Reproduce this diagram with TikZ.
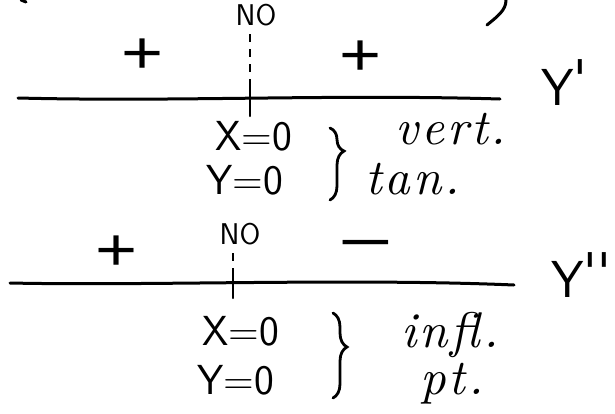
\documentclass[tikz,border=0pt]{standalone}
\usepackage{fontspec}
\usetikzlibrary{decorations.pathreplacing}
\newfontfamily\handit{lmroman10-italic}[Extension=.otf,LetterSpace=6]
\newfontfamily\signfont{Liberation Sans}
\begin{document}
\begin{tikzpicture}[x=1pt,y=-1pt,
  ink/.style={line width=3pt,line cap=round,black},
  print/.style={font=\sffamily\fontsize{42}{46}\selectfont,inner sep=0pt,anchor=base west},
  bigprint/.style={font=\sffamily\fontsize{52}{56}\selectfont,inner sep=0pt,anchor=base west},
  small/.style={font=\sffamily\fontsize{30}{34}\selectfont,inner sep=0pt},
  script/.style={font=\handit\fontsize{50}{54}\selectfont,inner sep=0pt,anchor=base west},
  signs/.style={font=\signfont\fontsize{60}{64}\selectfont,inner sep=0pt,xscale=1.2,transform shape},
  dashline/.style={line width=2.4pt,dash pattern=on 8pt off 7pt},
  bracestyle/.style={line width=2.8pt,line cap=round,decorate}]
\useasboundingbox (0,0) rectangle (615,413);
% fragments of earlier writing at the top edge
\draw[ink] (21,0) -- (26,2);
\draw[ink] (506,0) .. controls (506,10) and (498,16) .. (487,25);
% ---- first chart: Y'
\coordinate (a1) at (18,98);
\coordinate (b1) at (500,99);
\draw[ink] (a1) .. controls (180,102) and (330,94) .. (b1);
\node[small] (no1) at (256,15) {NO};
\coordinate (t1) at (250,116);
\draw[dashline] (no1.south) ++(-6,8) coordinate (d1) -- (250,86) coordinate (e1);
\draw[ink,line width=2.4pt] (e1) -- (t1);
\node[signs] (p1) at (143,56) {+};
\node[signs] (p2) at (361,58) {+};
\node[bigprint] (yp) at (541,105) {Y\raisebox{9pt}{\textquotesingle}};
\node[print] (x1) at (215,150) {X=0};
\node[print] (y1) at (206,194) {Y=0};
\draw[bracestyle,decoration={brace,amplitude=14pt,aspect=0.32}] (330,128) -- (330,200);
\node[script] (v1) at (395,144) {vert.};
\node[script] (v2) at (365,194) {tan.};
% ---- second chart: Y''
\coordinate (a2) at (10,283);
\coordinate (b2) at (514,285);
\draw[ink] (a2) .. controls (150,286) and (350,278) .. (b2);
\node[small] (no2) at (240,234) {NO};
\coordinate (t2) at (233,298);
\draw[dashline] (no2.south) ++(-7,8) coordinate (d2) -- (233,270) coordinate (e2);
\draw[ink,line width=2.4pt] (e2) -- (t2);
\node[signs] (p3) at (117,253) {+};
\node[signs,xscale=1.3] (m1) at (366,251) {−};
\node[bigprint] (ypp) at (551,297) {Y\raisebox{8pt}{\textquotesingle\textquotesingle}};
\node[print] (x2) at (202,345) {X=0};
\node[print] (y2) at (197,394) {Y=0};
\draw[bracestyle,decoration={brace,amplitude=14pt,aspect=0.4}] (333,313) -- (333,398);
\node[script] (i1) at (401,347) {infl.};
\node[script] (i2) at (420,394) {pt.};
\end{tikzpicture}
\end{document}
